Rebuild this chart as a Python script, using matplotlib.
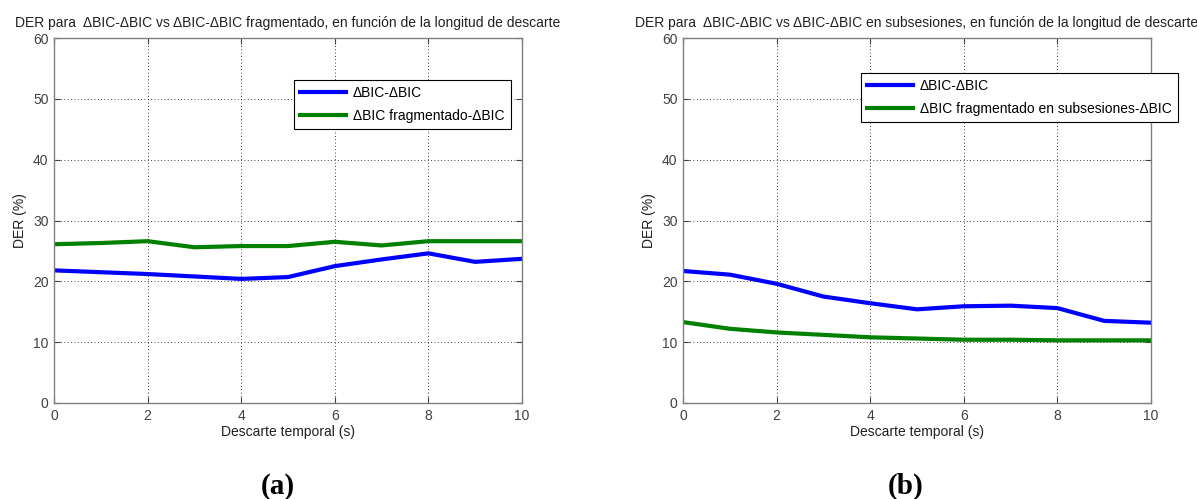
import matplotlib
matplotlib.use("Agg")
import matplotlib.pyplot as plt

x = [0, 1, 2, 3, 4, 5, 6, 7, 8, 9, 10]

a_blue = [21.8, 21.5, 21.2, 20.8, 20.4, 20.7, 22.5, 23.6, 24.6, 23.2, 23.7]
a_green = [26.1, 26.3, 26.6, 25.6, 25.8, 25.8, 26.5, 25.9, 26.6, 26.6, 26.6]
b_blue = [21.7, 21.1, 19.6, 17.5, 16.4, 15.4, 15.9, 16.0, 15.6, 13.5, 13.2]
b_green = [13.3, 12.2, 11.6, 11.2, 10.8, 10.6, 10.4, 10.4, 10.3, 10.3, 10.3]

titles = ["DER para  \u0394BIC-\u0394BIC vs \u0394BIC-\u0394BIC fragmentado, en funci\u00f3n de la longitud de descarte",
          "DER para  \u0394BIC-\u0394BIC vs \u0394BIC-\u0394BIC en subsesiones, en funci\u00f3n de la longitud de descarte"]
labels_blue = ["\u0394BIC-\u0394BIC", "\u0394BIC-\u0394BIC"]
labels_green = ["\u0394BIC fragmentado-\u0394BIC", "\u0394BIC fragmentado en subsesiones-\u0394BIC"]
captions = ["(a)", "(b)"]
xticks = [0, 2, 4, 6, 8, 10]
yticks = [0, 10, 20, 30, 40, 50, 60]

plt.rcParams['font.family'] = ['Liberation Sans', 'DejaVu Sans']

W, H = 1197, 499
fig = plt.figure(figsize=(W / 100, H / 100), dpi=100)

axes_px = [(54, 522), (683, 1151)]
top_px, bot_px = 38, 403
legend_anchor = [(0.513, 0.885), (0.380, 0.904)]
caption_x = [278, 906]
caption_y = 486

data = [(a_blue, a_green), (b_blue, b_green)]
for i in range(2):
    l, r = axes_px[i]
    ax = fig.add_axes([l / W, (H - bot_px) / H, (r - l) / W, (bot_px - top_px) / H])
    blue, green = data[i]
    ax.plot(x, blue, color=(0, 0, 1), lw=3, label=labels_blue[i], solid_joinstyle='miter')
    ax.plot(x, green, color=(0, 0.5, 0), lw=3, label=labels_green[i], solid_joinstyle='miter')
    ax.set_xlim(0, 10)
    ax.set_ylim(0, 60)
    ax.set_xticks(xticks)
    ax.set_yticks(yticks)
    ax.grid(True, linestyle=(0, (1, 3)), color='black', linewidth=0.6)
    ax.tick_params(direction='in', top=True, right=True, labelsize=10, colors='#404040',
                   length=4, width=0.8, pad=4)
    for s in ax.spines.values():
        s.set_color('#808080')
        s.set_linewidth(1.0)
    ax.set_title(titles[i], fontsize=10, pad=8, color='#202020')
    ax.set_xlabel("Descarte temporal (s)", fontsize=10, color='#202020', labelpad=2)
    ax.set_ylabel("DER (%)", fontsize=10, color='#202020', labelpad=4)
    leg = ax.legend(loc='upper left', bbox_to_anchor=legend_anchor[i], fontsize=10,
                    fancybox=False, framealpha=1, edgecolor='black', handlelength=3.3,
                    borderpad=0.45, labelspacing=0.6, handletextpad=0.5, borderaxespad=0)
    leg.get_frame().set_linewidth(0.8)
    fig.text(caption_x[i] / W, (H - caption_y) / H, captions[i], ha='center', va='center',
             fontsize=21, fontweight='bold', family='Liberation Serif')

fig.savefig("out.png", dpi=100)
